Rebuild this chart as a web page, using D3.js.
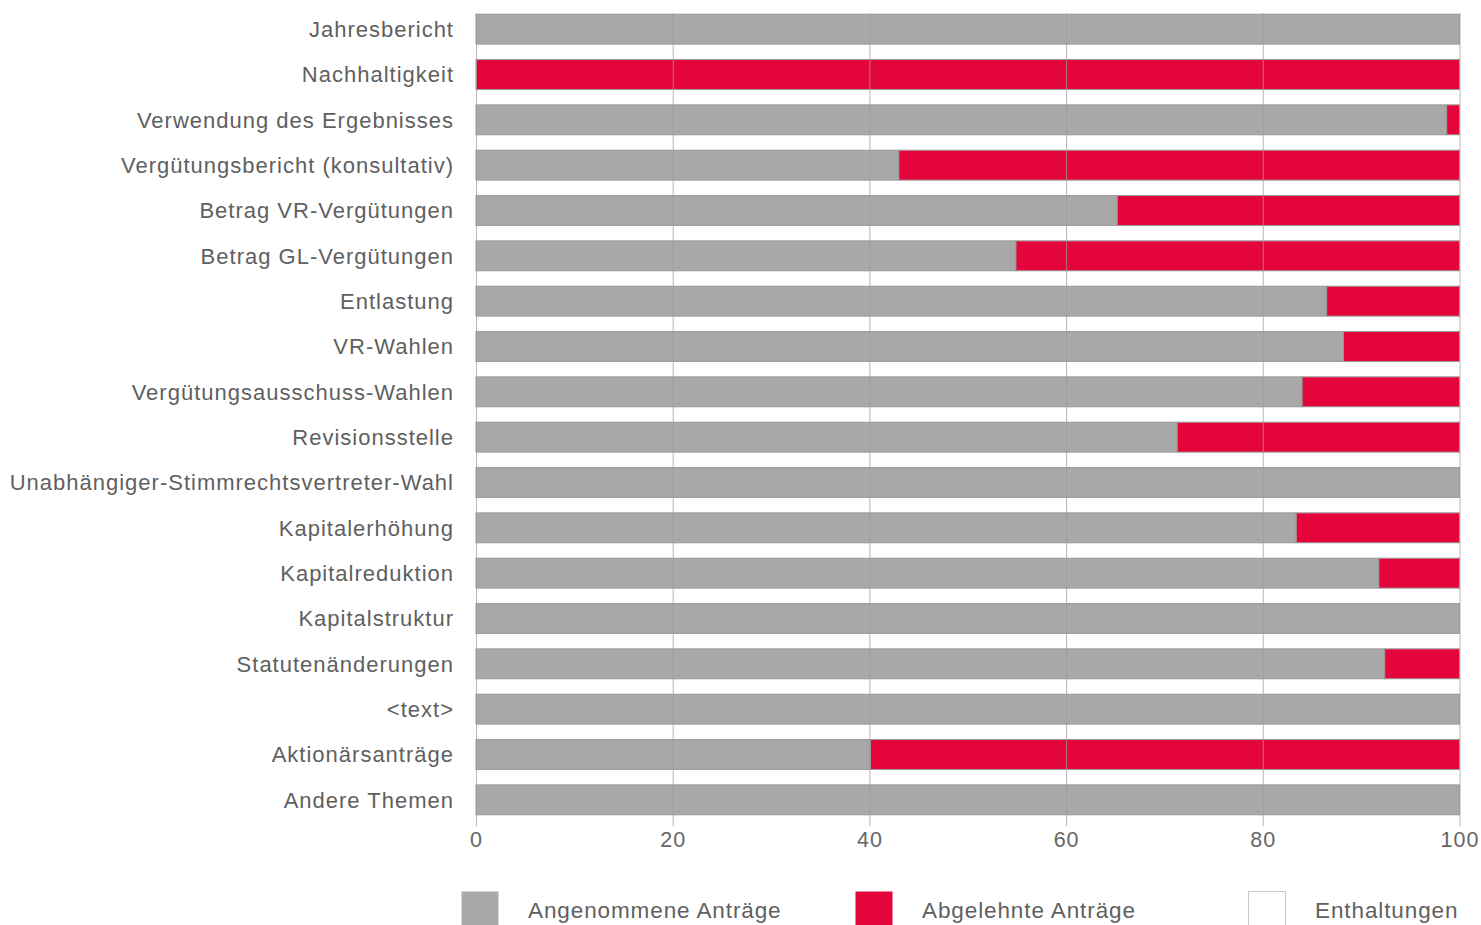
<!doctype html>
<html lang="de">
<head>
<meta charset="utf-8">
<title>Abstimmungsergebnisse</title>
<script src="https://d3js.org/d3.v7.min.js"></script>
<style>
    body { margin: 0; padding: 0; background: #fff; }
    svg text { font-family: Arial, "Liberation Sans", sans-serif; letter-spacing: 1px; }
    .label { fill: #606060; font-size: 22px; }
    .tick text { fill: #666; font-size: 21.5px; }
    .legend text { fill: #606060; font-size: 22.5px; letter-spacing: 0.9px; }
</style>
</head>
<body>
<div id="chart"></div>
<script>
    // data
    const categories = [
        "Jahresbericht", "Nachhaltigkeit", "Verwendung des Ergebnisses",
        "Vergütungsbericht (konsultativ)", "Betrag VR-Vergütungen", "Betrag GL-Vergütungen",
        "Entlastung", "VR-Wahlen", "Vergütungsausschuss-Wahlen", "Revisionsstelle",
        "Unabhängiger-Stimmrechtsvertreter-Wahl", "Kapitalerhöhung", "Kapitalreduktion",
        "Kapitalstruktur", "Statutenänderungen", "<text>", "Aktionärsanträge", "Andere Themen"
    ];
    const angenommen = [100, 0, 98.7, 43.0, 65.2, 54.9, 86.5, 88.2, 84.0, 71.3, 100, 83.4, 91.8, 100, 92.4, 100, 40.1, 100];
    const abgelehnt = [0, 100, 1.3, 57.0, 34.8, 45.1, 13.5, 11.8, 16.0, 28.7, 0, 16.6, 8.2, 0, 7.6, 0, 59.9, 0];
    const enthaltungen = [0, 0, 0, 0, 0, 0, 0, 0, 0, 0, 0, 0, 0, 0, 0, 0, 0, 0];
    const ticks = [0, 20, 40, 60, 80, 100];
    const seriesNames = ["Angenommene Anträge", "Abgelehnte Anträge", "Enthaltungen"];
    const seriesColors = ["#a8a8a8", "#e4053a", "#ffffff"];

    const width = 1481, height = 925;
    const svg = d3.select("#chart").append("svg")
        .attr("width", width)
        .attr("height", height);

    // scales
    const x = d3.scaleLinear().domain([0, 100]).range([476, 1459.5]);
    const y = d3.scaleBand().domain(categories).range([6.5, 822.5]).paddingInner(0.34).paddingOuter(0.17);

    // stacked series
    const rows = categories.map((c, i) => ({cat: c, a: angenommen[i], r: abgelehnt[i], e: enthaltungen[i]}));
    const stack = d3.stack().keys(["a", "r", "e"]);
    const layers = stack(rows);

    const barsG = svg.append("g");
    layers.forEach((layer, li) => {
        barsG.append("g")
            .attr("fill", seriesColors[li])
            .attr("stroke", "#9a9a9a")
            .attr("stroke-width", 1)
            .selectAll("rect")
            .data(layer.filter(d => d[1] - d[0] > 0))
            .join("rect")
            .attr("x", d => x(d[0]))
            .attr("y", d => y(d.data.cat))
            .attr("width", d => x(d[1]) - x(d[0]))
            .attr("height", y.bandwidth());
    });

    // gridlines (drawn over the bars)
    svg.append("g")
        .selectAll("line")
        .data(ticks)
        .join("line")
        .attr("x1", d => x(d) + 0.5)
        .attr("x2", d => x(d) + 0.5)
        .attr("y1", 13)
        .attr("y2", 826)
        .attr("stroke", "#9e9e9e")
        .attr("stroke-opacity", 0.75)
        .attr("stroke-width", 1);

    // x axis
    const xAxis = svg.append("g")
        .attr("transform", "translate(0,823)")
        .call(d3.axisBottom(x).tickValues(ticks).tickSize(0).tickPadding(5));
    xAxis.select(".domain").remove();
    xAxis.selectAll("text").attr("dy", "0.9em");

    // category labels
    svg.append("g")
        .selectAll("text")
        .data(categories)
        .join("text")
        .attr("class", "label")
        .attr("x", 454)
        .attr("y", d => y(d) + y.bandwidth() / 2)
        .attr("dy", "0.35em")
        .attr("text-anchor", "end")
        .text(d => d);

    // legend
    const legendX = [461, 855, 1248];
    const legend = svg.append("g").attr("class", "legend");
    seriesNames.forEach((name, i) => {
        const g = legend.append("g").attr("transform", `translate(${legendX[i]},891)`);
        g.append("rect")
            .attr("x", 0.5).attr("y", 0.5)
            .attr("width", 37).attr("height", 36)
            .attr("fill", seriesColors[i])
            .attr("stroke", i === 2 ? "#c8c8c8" : "none");
        g.append("text")
            .attr("x", 67)
            .attr("y", 19)
            .attr("dy", "0.35em")
            .text(name);
    });
</script>
</body>
</html>
